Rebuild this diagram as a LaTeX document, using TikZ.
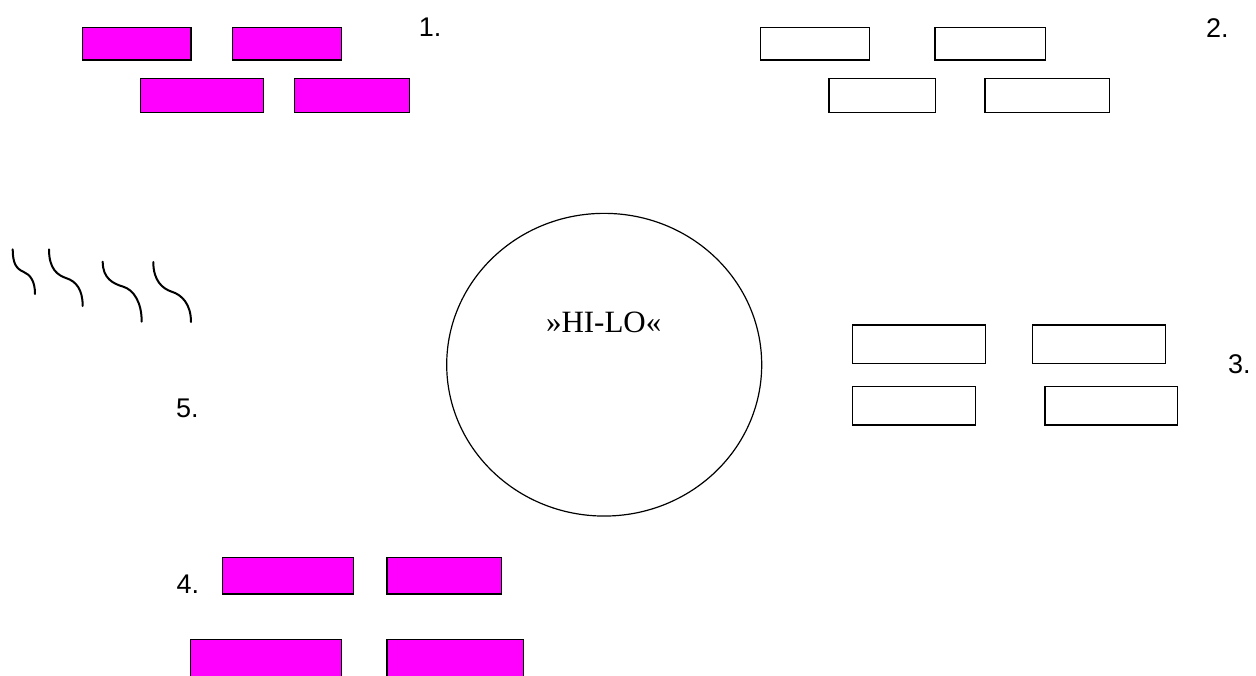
\documentclass[tikz,border=0pt]{standalone}
\usepackage{fontspec}
\usetikzlibrary{shapes.geometric}
\setmainfont{Liberation Serif}
\newfontfamily\arialf{Liberation Sans}
\definecolor{boxmag}{HTML}{FF00FF}
\tikzset{
  pbox/.style={draw=black, line width=1.3pt, fill=boxmag, rectangle, inner sep=0pt},
  wbox/.style={draw=black, line width=1.3pt, fill=white, rectangle, inner sep=0pt},
  numlabel/.style={anchor=base west, inner sep=0pt, font=\arialf\fontsize{27}{27}\selectfont},
  wave/.style={line width=2pt, line cap=round},
}
\begin{document}
\begin{tikzpicture}[x=1pt,y=-1pt]
\useasboundingbox (0,0) rectangle (1256,675);
\clip (0,0) rectangle (1256,675);
% group 1
\node[pbox, minimum width=108.3pt, minimum height=32.7pt] (a) at (136.9,43.7) {};
\node[pbox, minimum width=109pt, minimum height=32.7pt] (b) at (287.2,43.7) {};
\node[pbox, minimum width=122.6pt, minimum height=34pt] (c) at (202,95.3) {};
\node[pbox, minimum width=114.6pt, minimum height=34pt] (d) at (352,95.3) {};
\node[numlabel] (n1) at (418.7,36.7) {1.};
% group 2
\node[wbox, minimum width=109pt, minimum height=32.7pt] (e) at (815.2,43.7) {};
\node[wbox, minimum width=110.7pt, minimum height=32.7pt] (f) at (990.3,43.7) {};
\node[wbox, minimum width=106.3pt, minimum height=34pt] (g) at (882.2,95.3) {};
\node[wbox, minimum width=124.3pt, minimum height=34pt] (h) at (1047.2,95.3) {};
\node[numlabel] (n2) at (1206,37) {2.};
% group 3
\node[wbox, minimum width=133pt, minimum height=38.3pt] (i) at (919.2,344.2) {};
\node[wbox, minimum width=133pt, minimum height=38.3pt] (j) at (1099.2,344.2) {};
\node[wbox, minimum width=122.6pt, minimum height=38.3pt] (k) at (914,405.8) {};
\node[wbox, minimum width=132.7pt, minimum height=38.3pt] (l) at (1111.3,405.8) {};
\node[numlabel] (n3) at (1228,373) {3.};
% group 4
\node[pbox, minimum width=131pt, minimum height=36.7pt] (m) at (288.2,575.7) {};
\node[pbox, minimum width=114.7pt, minimum height=36.7pt] (nn) at (444.3,575.7) {};
\node[pbox, minimum width=151pt, minimum height=51.3pt] (o) at (266.2,665) {};
\node[pbox, minimum width=136.7pt, minimum height=51.3pt] (p) at (455.3,665) {};
\node[numlabel] (n4) at (176.3,593.3) {4.};
% label 5
\node[numlabel] (n5) at (176,417) {5.};
% circle
\node[draw=black, line width=1.2pt, ellipse, minimum width=315pt, minimum height=302.7pt, inner sep=0pt] (hilo) at (604.2,364.7) {};
\node[anchor=base, inner sep=0pt, font=\fontsize{31}{31}\selectfont] (hilotext) at (603.7,332.7) {»HI-LO«};
% waves
\draw[wave] (12.7,249.3) .. controls +(0,14) and +(-7,-3) .. (23.3,271.7) .. controls +(7,3) and +(0,-13) .. (35,294);
\draw[wave] (49,249.3) .. controls +(0,20) and +(-9,-3) .. (66.7,278.3) .. controls +(9,3) and +(0,-17) .. (82.7,306);
\draw[wave] (102.7,261.7) .. controls +(0,17) and +(-10,-3) .. (123.3,286.7) .. controls +(10,3) and +(0,-20) .. (141.7,321.7);
\draw[wave] (153.3,262) .. controls +(0,19) and +(-9,-3) .. (171.7,291.7) .. controls +(10,3) and +(0,-18) .. (191,322);
\end{tikzpicture}
\end{document}
